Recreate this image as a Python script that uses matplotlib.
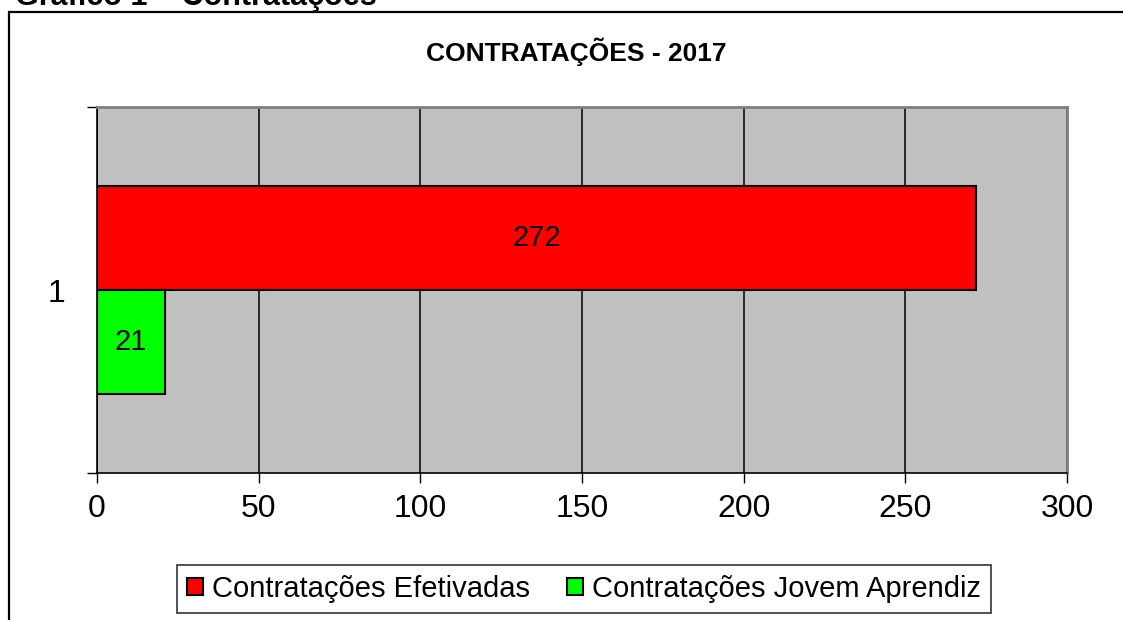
import matplotlib
matplotlib.use("Agg")
import matplotlib.pyplot as plt
from matplotlib.patches import Rectangle

plt.rcParams["font.family"] = ["Liberation Sans", "DejaVu Sans"]

# data
categories = ["1"]
series_names = ["Contratações Efetivadas", "Contratações Jovem Aprendiz"]
series_values = [[272], [21]]
series_colors = ["#FF0000", "#00FF00"]
x_ticks = [0, 50, 100, 150, 200, 250, 300]
chart_title = "CONTRATAÇÕES - 2017"
heading = "Gráfico 1 – Contratações"

fig = plt.figure(figsize=(11.23, 6.2), dpi=100)
fig.patch.set_facecolor("white")

# outer frame of the embedded chart (runs off the right and bottom edges)
fig.patches.append(Rectangle((9 / 1123, -0.1), 1.2, 1 - 12 / 620 + 0.1,
                             transform=fig.transFigure, fill=False,
                             edgecolor="black", linewidth=1.6, zorder=0))
fig.text(15 / 1123, 1 - 5 / 620, heading, fontsize=22, fontweight="bold",
         ha="left", va="baseline")

ax = fig.add_axes([97 / 1123, 1 - 473 / 620, 970 / 1123, 366 / 620])
ax.set_facecolor("#C0C0C0")

bar_h = 0.285
n = len(series_values)
for i, (name, vals, col) in enumerate(zip(series_names, series_values, series_colors)):
    ypos = [k + 1 + bar_h * (n / 2 - i - 0.5) for k in range(len(categories))]
    bars = ax.barh(ypos, vals, height=bar_h, color=col, edgecolor="black",
                   linewidth=1.5, label=name, zorder=3)
    ax.bar_label(bars, labels=[str(v) for v in vals], label_type="center",
                 fontsize=21, color="black")

ax.set_xlim(0, 300)
ax.set_ylim(0.5, len(categories) + 0.5)
ax.set_xticks(x_ticks)
ax.set_xticklabels([str(t) for t in x_ticks], fontsize=23)
ax.tick_params(axis="x", direction="out", length=7, width=1, pad=8, color="black")

ax.set_yticks([k + 1 for k in range(len(categories))])
ax.set_yticklabels(categories, fontsize=23)
ax.set_yticks([k + 0.5 for k in range(len(categories) + 1)], minor=True)
ax.tick_params(axis="y", which="major", length=0, pad=23)
ax.tick_params(axis="y", which="minor", direction="out", length=7, width=1)

ax.grid(axis="x", color="black", linewidth=1.1, zorder=1)
ax.set_axisbelow(True)

for side in ["left", "bottom"]:
    ax.spines[side].set_color("black")
    ax.spines[side].set_linewidth(1.2)
for side in ["top", "right"]:
    ax.spines[side].set_color("#808080")
    ax.spines[side].set_linewidth(2)

fig.text(576 / 1123, 1 - 52 / 620, chart_title, fontsize=19, fontweight="bold",
         ha="center", va="center")

leg = fig.legend(loc="center", bbox_to_anchor=(584 / 1123, 1 - 589 / 620),
                 ncol=2, fontsize=21, frameon=True, fancybox=False,
                 edgecolor="black", handlelength=0.55, handleheight=0.55,
                 handletextpad=0.3, columnspacing=1.3, borderpad=0.35,
                 borderaxespad=0)
leg.get_frame().set_linewidth(1.2)

fig.savefig("out.png", dpi=100, facecolor="white")
